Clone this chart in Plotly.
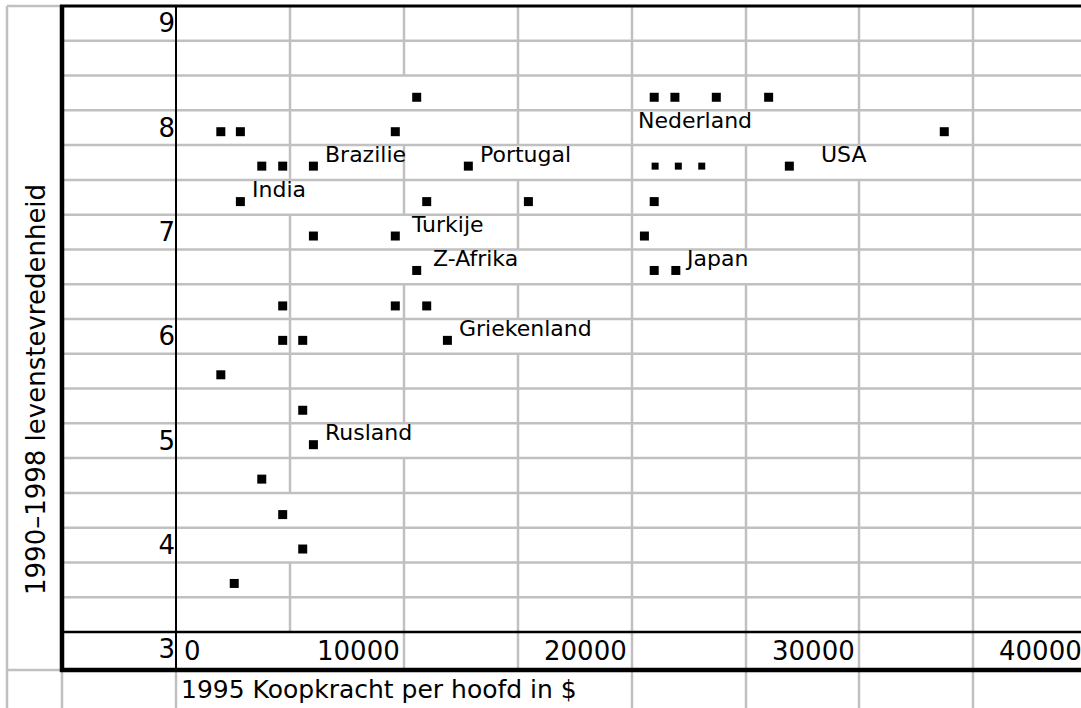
import plotly.graph_objects as go

# ---------------- data ----------------
koopkracht = [10580, 21020, 21930, 23750, 26050,
              1970, 2830, 9640, 33770,
              3770, 4690, 6040, 12850, 26960,
              2830, 11020, 15490, 21020,
              6040, 9640, 20590,
              10580, 21020, 21970,
              4690, 9640, 11020,
              4690, 5570, 11930,
              1970, 5570, 6040, 3770, 4690, 5570, 2560]
tevredenheid = [8.33, 8.33, 8.33, 8.33, 8.33,
                8.0, 8.0, 8.0, 8.0,
                7.67, 7.67, 7.67, 7.67, 7.67,
                7.33, 7.33, 7.33, 7.33,
                7.0, 7.0, 7.0,
                6.67, 6.67, 6.67,
                6.33, 6.33, 6.33,
                6.0, 6.0, 6.0,
                5.67, 5.33, 5.0, 4.67, 4.33, 4.0, 3.67]
landen = ["", "Nederland", "", "", "",
          "", "", "", "",
          "", "", "Brazilie", "Portugal", "USA",
          "India", "", "", "",
          "", "Turkije", "",
          "Z-Afrika", "", "Japan",
          "", "", "",
          "", "", "Griekenland",
          "", "", "Rusland", "", "", "", ""]
koopkracht_klein = [21060, 22080, 23110]
tevredenheid_klein = [7.67, 7.67, 7.67]

y_ticks = [9, 8, 7, 6, 5, 4, 3]
x_ticks = [0, 10000, 20000, 30000, 40000]
x_tick_labels = ["0", "10000", "20000", "30000", "40000"]
x_title = "1995 Koopkracht per hoofd in $"
y_title = "1990\u20131998 levenstevredenheid"

# ---------------- layout helpers (pixels) ----------------
W, H = 1081, 708
PL = 176
PW = W - PL
PX_PER_DOLLAR = 0.02275
Y8_PX = 131.7
PX_PER_UNIT = 104.33

x_range = [0, PW / PX_PER_DOLLAR]
y_range = [8 - (H - Y8_PX) / PX_PER_UNIT, 8 + Y8_PX / PX_PER_UNIT]


def fx(p):
    return (p - PL) / PW


def fy(p):
    return 1 - p / H


GRAY = "#c0c0c0"
FONT = "DejaVu Sans"
shapes = []


def hline(y, x0, x1, color=GRAY, w=2.5):
    shapes.append(dict(type="line", xref="paper", yref="paper",
                       x0=fx(x0), x1=fx(x1), y0=fy(y), y1=fy(y),
                       line=dict(color=color, width=w), layer="below"))


def vline(x, y0, y1, color=GRAY, w=2.5):
    shapes.append(dict(type="line", xref="paper", yref="paper",
                       x0=fx(x), x1=fx(x), y0=fy(y0), y1=fy(y1),
                       line=dict(color=color, width=w), layer="below"))


row_h = (632 - 6) / 18
rows = [6 + row_h * k for k in range(19)] + [670, H]
cols = [290, 404, 518, 632, 746, 859, 973]
hidden = {3: [404], 4: [404, 746], 5: [518, 859], 6: [290], 7: [404],
          8: [404, 518, 746], 10: [518], 13: [404], 15: [290], 16: [290],
          19: [290], 20: [290, 404, 518]}

for r in range(1, 21):
    y0, y1 = rows[r - 1], rows[r]
    for c in cols:
        if c in hidden.get(r, []):
            continue
        vline(c, y0, y1)

for k in range(1, 18):
    hline(rows[k], 62, W)

# left column cell
vline(7, 6, H)
hline(6, 7, 62)
hline(670, 7, 62)
vline(62, 670, H)
vline(176, 670, H)

# black borders
vline(176, 5, 671, color="black", w=2)
hline(632, 62, W, color="black", w=2.5)
hline(670, 60, W, color="black", w=4.5)
hline(6, 60, W, color="black", w=3)
vline(62, 5, 672, color="black", w=4.5)

fig = go.Figure()
fig.add_trace(go.Scatter(x=koopkracht, y=tevredenheid, mode="markers",
                         marker=dict(symbol="square", size=9, color="black",
                                     line=dict(width=0)),
                         hoverinfo="skip", showlegend=False))
fig.add_trace(go.Scatter(x=koopkracht_klein, y=tevredenheid_klein, mode="markers",
                         marker=dict(symbol="square", size=7, color="black",
                                     line=dict(width=0)),
                         hoverinfo="skip", showlegend=False))

label_shift = {"Nederland": (-18, -23), "USA": (30, 12), "Turkije": (14, 12),
               "Z-Afrika": (14, 12), "Japan": (7, 12)}
annotations = []
for xv, yv, name in zip(koopkracht, tevredenheid, landen):
    if not name:
        continue
    dx, dy = label_shift.get(name, (10, 12))
    annotations.append(dict(x=xv, y=yv, xref="x", yref="y", text=name,
                            showarrow=False, xanchor="left", yanchor="middle",
                            xshift=dx, yshift=dy,
                            font=dict(family=FONT, size=22, color="black")))

# x tick labels sit in the spreadsheet row below the axis line
for xv, lab in zip(x_ticks, x_tick_labels):
    annotations.append(dict(x=fx(PL + xv * PX_PER_DOLLAR), y=fy(651),
                            xref="paper", yref="paper", text=lab,
                            showarrow=False,
                            xanchor="left" if xv == 0 else "right",
                            yanchor="middle",
                            xshift=6 if xv == 0 else -2,
                            font=dict(family=FONT, size=26, color="black")))

annotations.append(dict(x=fx(179), y=fy(689), xref="paper", yref="paper",
                        text=x_title, showarrow=False, xanchor="left",
                        yanchor="middle",
                        font=dict(family=FONT, size=25, color="black")))
annotations.append(dict(x=fx(36), y=fy(390), xref="paper", yref="paper",
                        text=y_title, showarrow=False, textangle=-90,
                        xanchor="center", yanchor="middle",
                        font=dict(family=FONT, size=26, color="black")))

fig.update_layout(
    width=W, height=H,
    margin=dict(l=PL, r=0, t=0, b=0, pad=0),
    paper_bgcolor="white", plot_bgcolor="white",
    xaxis=dict(range=x_range, showgrid=False, zeroline=False, showline=False,
               showticklabels=False, ticks="", fixedrange=True),
    yaxis=dict(range=y_range, tickmode="array", tickvals=y_ticks,
               ticktext=[str(v) for v in y_ticks],
               showgrid=False, zeroline=False, showline=False, ticks="",
               ticklabelshift=-4, ticklabelstandoff=0,
               tickfont=dict(family=FONT, size=26, color="black"),
               fixedrange=True),
    shapes=shapes,
    annotations=annotations,
    showlegend=False,
)

fig.write_html("out.html", config={"displayModeBar": False},
               post_script="document.body.style.margin='0';"
                           "document.body.style.overflow='hidden';")
